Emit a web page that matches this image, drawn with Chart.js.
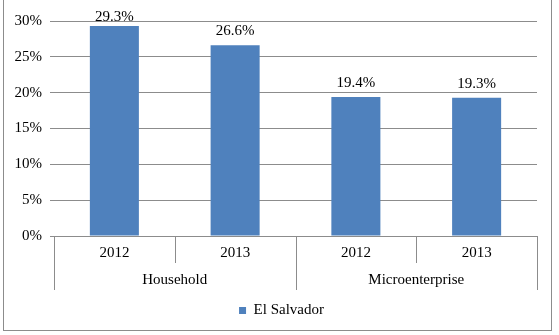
<!DOCTYPE html>
<html>
<head>
<meta charset="utf-8">
<script src="https://cdn.jsdelivr.net/npm/chart.js@4/dist/chart.umd.min.js"></script>
<style>
  html, body { margin: 0; padding: 0; background: #fff; }
  #wrap { position: relative; width: 559px; height: 335px; }
  #frame { position: absolute; left: 3px; top: -2px; width: 549px; height: 333px; border: 1px solid #8c8c8c; box-sizing: border-box; pointer-events: none; }
</style>
</head>
<body>
<div id="wrap">
  <canvas id="chart" width="559" height="335"></canvas>
  <div id="frame"></div>
</div>
<script>
const years = ['2012', '2013', '2012', '2013']
const groups = ['Household', 'Microenterprise']
const groupSize = 2
const seriesName = 'El Salvador'
const values = [29.3, 26.6, 19.4, 19.3]
const yTicks = [0, 5, 10, 15, 20, 25, 30]

const FONT = 'Liberation Serif, "Times New Roman", serif'

// draws value labels, category separators and the group labels under the years
const extrasPlugin = {
  id: 'extras',
  afterLayout (chart) {
    // legend sits a bit right of canvas centre in the original
    if (chart.legend) chart.legend.left += 26
  },
  afterDatasetsDraw (chart) {
    const ctx = chart.ctx
    const meta = chart.getDatasetMeta(0)
    ctx.save()
    ctx.font = '15px ' + FONT
    ctx.fillStyle = '#000'
    ctx.textAlign = 'center'
    ctx.textBaseline = 'alphabetic'
    meta.data.forEach((bar, i) => {
      const y = Math.max(bar.y - 10, chart.chartArea.top)
      ctx.fillText(values[i].toFixed(1) + '%', bar.x, y)
    })
    ctx.restore()
  },
  afterDraw (chart) {
    const ctx = chart.ctx
    const x = chart.scales.x
    const area = chart.chartArea
    const bottom = area.bottom
    const step = (area.right - area.left) / years.length
    ctx.save()
    ctx.strokeStyle = '#8c8c8c'
    ctx.lineWidth = 1
    for (let i = 0; i <= years.length; i++) {
      const px = Math.round(area.left + i * step) + 0.5
      const len = i % groupSize === 0 ? 54 : 27
      ctx.beginPath()
      ctx.moveTo(px, bottom)
      ctx.lineTo(px, bottom + len)
      ctx.stroke()
    }
    ctx.font = '15px ' + FONT
    ctx.fillStyle = '#000'
    ctx.textAlign = 'center'
    ctx.textBaseline = 'middle'
    groups.forEach((g, gi) => {
      const first = x.getPixelForValue(gi * groupSize)
      const last = x.getPixelForValue(gi * groupSize + groupSize - 1)
      ctx.fillText(g, (first + last) / 2, bottom + 44)
    })
    ctx.restore()
  }
}

const data = {
  labels: years,
  datasets: [
    {
      label: seriesName,
      data: values,
      backgroundColor: '#4F81BD',
      borderWidth: 0,
      categoryPercentage: 1,
      barPercentage: 0.406
    }
  ]
}

const config = {
  type: 'bar',
  data,
  plugins: [extrasPlugin],
  options: {
    responsive: false,
    animation: false,
    layout: {
      padding: { top: 21, right: 22, bottom: 7, left: 0 }
    },
    plugins: {
      legend: {
        position: 'bottom',
        labels: {
          boxWidth: 7,
          boxHeight: 7,
          padding: 10,
          color: '#000',
          font: { family: FONT, size: 15 }
        }
      },
      tooltip: { enabled: false }
    },
    scales: {
      x: {
        grid: { display: false, drawTicks: false, tickLength: 0 },
        border: { display: false },
        ticks: {
          color: '#000',
          padding: 8,
          maxRotation: 0,
          font: { family: FONT, size: 15 }
        },
        afterFit (scale) { scale.height = 57 }
      },
      y: {
        min: 0,
        max: 30,
        afterBuildTicks (scale) { scale.ticks = yTicks.map(v => ({ value: v })) },
        grid: { color: '#8c8c8c', tickLength: 4, lineWidth: 1 },
        border: { display: false },
        ticks: {
          color: '#000',
          padding: 8,
          font: { family: FONT, size: 15 },
          callback: v => v + '%'
        },
        afterFit (scale) { scale.width = 54 }
      }
    }
  }
}

new Chart(document.getElementById('chart').getContext('2d'), config)
</script>
</body>
</html>
